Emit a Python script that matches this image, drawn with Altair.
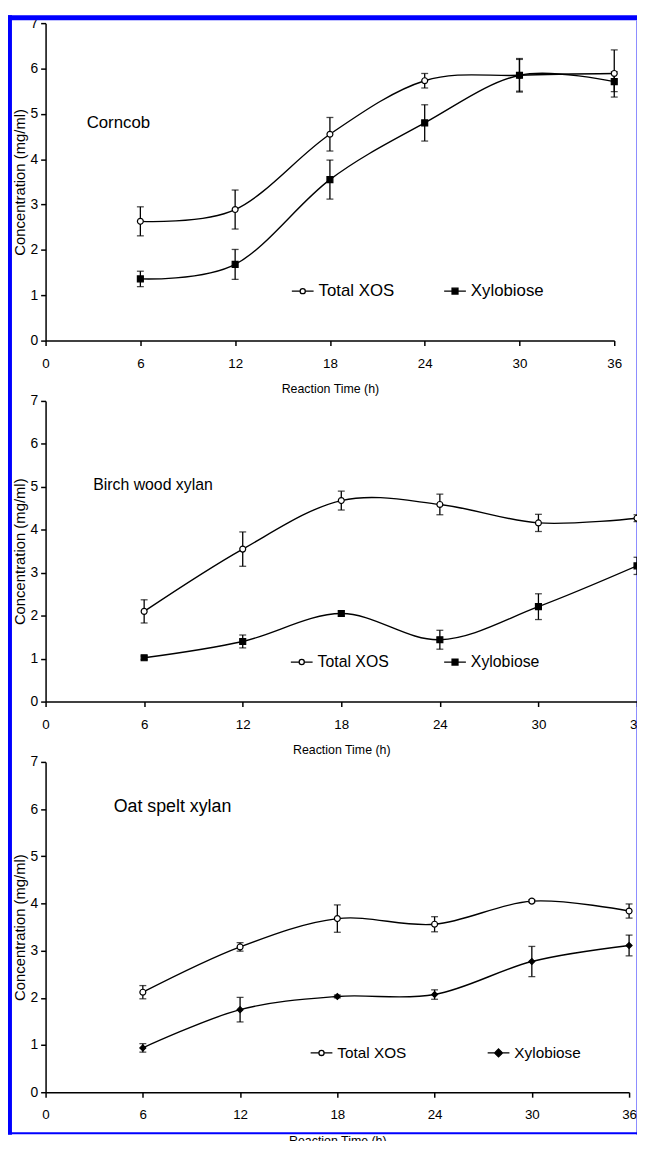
import altair as alt
import pandas as pd

# ---------------- data ----------------
hours = [6, 12, 18, 24, 30, 36]
series_names = ["Total XOS", "Xylobiose"]
x_ticks = [0, 6, 12, 18, 24, 30, 36]
y_ticks = [0, 1, 2, 3, 4, 5, 6, 7]

corncob_total = [2.63, 2.89, 4.55, 5.73, 5.85, 5.89]
corncob_total_err = [0.32, 0.43, 0.37, 0.16, 0.37, 0.52]
corncob_xylo = [1.36, 1.68, 3.55, 4.80, 5.85, 5.71]
corncob_xylo_err = [0.17, 0.33, 0.43, 0.40, 0.35, 0.22]

birch_total = [2.10, 3.55, 4.68, 4.59, 4.16, 4.27]
birch_total_err = [0.27, 0.40, 0.22, 0.24, 0.20, 0.08]
birch_xylo = [1.02, 1.40, 2.05, 1.44, 2.21, 3.16]
birch_xylo_err = [0.04, 0.15, 0.06, 0.22, 0.30, 0.20]

oat_total = [2.12, 3.08, 3.68, 3.56, 4.05, 3.84]
oat_total_err = [0.14, 0.09, 0.29, 0.16, 0.03, 0.15]
oat_xylo = [0.94, 1.75, 2.03, 2.07, 2.77, 3.11]
oat_xylo_err = [0.09, 0.26, 0.03, 0.10, 0.32, 0.22]

panel_titles = ["Corncob", "Birch wood xylan", "Oat spelt xylan"]
title_x = [2.6, 2.9, 4.2]
title_y = [4.8, 5.03, 6.05]

# ---------------- styles ----------------
FONT = "Liberation Sans"
SVG_W, SVG_H = 636, 1133
ORIGIN_X, ORIGIN_Y = 38, 9

OPEN_LEG = "M-1.1,0H-0.26M0.26,0H1.1M0.26,0A0.26,0.26,0,1,1,-0.26,0A0.26,0.26,0,1,1,0.26,0Z"
SQUARE_LEG = "M-1.1,0H1.1M-0.3,-0.3H0.3V0.3H-0.3Z"
DIAMOND_LEG = "M-1.1,0H1.1M0,-0.4L0.4,0L0,0.4L-0.4,0Z"

panel_styles = [
    dict(width=575, height=321, label_size=17, leg_x=249, leg_y=260, leg_gap=47,
         leg_size=17, marker="square", leg_marker=SQUARE_LEG),
    dict(width=598, height=304, label_size=16, leg_x=248, leg_y=253, leg_gap=52,
         leg_size=16, marker="square", leg_marker=SQUARE_LEG),
    dict(width=590, height=334, label_size=18, leg_x=268, leg_y=283, leg_gap=79,
         leg_size=15.5, marker="diamond", leg_marker=DIAMOND_LEG),
]

panel_data = [
    (corncob_total, corncob_total_err, corncob_xylo, corncob_xylo_err),
    (birch_total, birch_total_err, birch_xylo, birch_xylo_err),
    (oat_total, oat_total_err, oat_xylo, oat_xylo_err),
]


def frame_layers():
    """Blue page frame around the figure (decoration only)."""
    one = alt.Chart(pd.DataFrame({"k": [0]}))
    left = one.mark_rule(color="#0000ff", strokeWidth=4).encode(
        x=alt.value(-36), y=alt.value(-8), y2=alt.value(1124))
    top = one.mark_rule(color="#0000ff", strokeWidth=5).encode(
        x=alt.value(-38), x2=alt.value(600), y=alt.value(-5.5))
    right = one.mark_rule(color="#8c8cff", strokeWidth=1).encode(
        x=alt.value(597.5), y=alt.value(-3), y2=alt.value(1124))
    bottom = one.mark_rule(color="#0000ff", strokeWidth=2).encode(
        x=alt.value(-38), x2=alt.value(600), y=alt.value(1122.5))
    return [left, top, right, bottom]


def make_panel(i):
    tot, tot_e, xy, xy_e = panel_data[i]
    st = panel_styles[i]
    rows = []
    for s, vals, errs in [(series_names[0], tot, tot_e), (series_names[1], xy, xy_e)]:
        for h, v, e in zip(hours, vals, errs):
            rows.append(dict(hour=h, value=v, lo=v - e, hi=v + e, series=s))
    df = pd.DataFrame(rows)

    x = alt.X("hour:Q", scale=alt.Scale(domain=[0, 36], nice=False),
              axis=alt.Axis(values=x_ticks, title="Reaction Time (h)", labelFont=FONT,
                            labelFontSize=13.5, titleFont=FONT, titleFontSize=12.5,
                            titleFontWeight="normal", labelPadding=11, titlePadding=13,
                            labelFlush=False))
    y = alt.Y("value:Q", scale=alt.Scale(domain=[0, 7], nice=False),
              axis=alt.Axis(values=y_ticks, title="Concentration (mg/ml)", labelFont=FONT,
                            labelFontSize=14, titleFont=FONT, titleFontSize=15,
                            titleFontWeight="normal", labelPadding=3, titlePadding=3))

    base = alt.Chart(df)
    lines = base.mark_line(interpolate="cardinal", color="black", strokeWidth=1.4).encode(
        x=x, y=y, detail="series:N")
    err = base.mark_rule(color="black", strokeWidth=1.3).encode(
        x="hour:Q", y="lo:Q", y2="hi:Q")
    cap_lo = base.mark_tick(color="black", size=7, thickness=1.3, orient="horizontal").encode(
        x="hour:Q", y="lo:Q")
    cap_hi = base.mark_tick(color="black", size=7, thickness=1.3, orient="horizontal").encode(
        x="hour:Q", y="hi:Q")
    pts = base.mark_point(filled=True, stroke="black", strokeWidth=1.2, size=36, opacity=1).encode(
        x="hour:Q", y="value:Q",
        shape=alt.Shape("series:N", scale=alt.Scale(domain=series_names,
                                                    range=["circle", st["marker"]]), legend=None),
        fill=alt.Fill("series:N", scale=alt.Scale(domain=series_names,
                                                  range=["white", "black"]), legend=None),
    )
    leg_props = dict(orient="none", legendX=st["leg_x"], legendY=st["leg_y"],
                     direction="horizontal", title=None, labelFont=FONT,
                     labelFontSize=st["leg_size"], labelColor="black", symbolSize=400,
                     symbolStrokeColor="black", symbolStrokeWidth=1.3, labelOffset=5,
                     columnPadding=st["leg_gap"], padding=0, symbolOpacity=1)
    leg = base.transform_filter("false").mark_point(filled=False, opacity=1, strokeWidth=1.3).encode(
        x="hour:Q", y="value:Q",
        shape=alt.Shape("series:N", scale=alt.Scale(domain=series_names,
                                                    range=[OPEN_LEG, st["leg_marker"]]),
                        legend=alt.Legend(**leg_props)),
        fill=alt.Fill("series:N", scale=alt.Scale(domain=series_names,
                                                  range=["white", "black"]),
                      legend=alt.Legend(**leg_props)),
        stroke=alt.Stroke("series:N", scale=alt.Scale(domain=series_names,
                                                      range=["black", "black"]),
                          legend=alt.Legend(**leg_props)),
    )
    lab_df = pd.DataFrame(dict(hour=[title_x[i]], value=[title_y[i]], text=[panel_titles[i]]))
    label = alt.Chart(lab_df).mark_text(align="left", baseline="middle", font=FONT,
                                        fontSize=st["label_size"], color="black").encode(
        x="hour:Q", y="value:Q", text="text:N")

    layers = [lines, err, cap_lo, cap_hi, pts, leg, label]
    if i == 0:
        layers += frame_layers()
    return alt.layer(*layers).resolve_scale(
        shape="independent", fill="independent", stroke="independent"
    ).properties(width=st["width"], height=st["height"])


p1, p2, p3 = make_panel(0), make_panel(1), make_panel(2)

chart = alt.vconcat(p1, p2, p3, spacing=61, bounds="flush").resolve_scale(
    shape="independent", fill="independent", stroke="independent",
    x="independent", y="independent"
).properties(
    autosize=alt.AutoSizeParams(type="none"),
    padding={"left": ORIGIN_X, "top": ORIGIN_Y,
             "right": SVG_W - ORIGIN_X, "bottom": SVG_H - ORIGIN_Y},
).configure_view(stroke=None).configure_axis(
    domainColor="black", domainWidth=1.5, tickColor="black", tickWidth=1.5, tickSize=5,
    grid=False, labelColor="black", titleColor="black"
)

chart.save("out.html", embed_options={"renderer": "svg", "actions": False})
